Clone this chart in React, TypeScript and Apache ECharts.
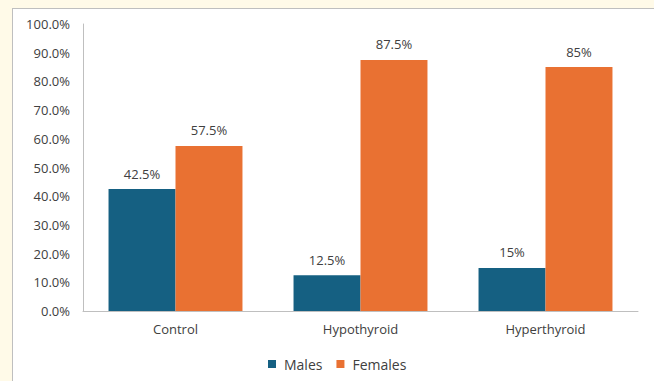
import React, { useEffect, useRef } from "react";
import * as echarts from "echarts";

const categories = ["Control", "Hypothyroid", "Hyperthyroid"];
const males = [42.5, 12.5, 15];
const females = [57.5, 87.5, 85];
const seriesNames = ["Males", "Females"];

const FONT = "'Open Sans', 'Liberation Sans', sans-serif";

export default function App() {
  const ref = useRef<HTMLDivElement>(null);
  useEffect(() => {
    if (!ref.current) return;
    const chart = echarts.init(ref.current, null, { renderer: "svg" });
    const label = {
      show: true,
      position: "top" as const,
      distance: 9,
      color: "#404040",
      fontSize: 13,
      fontFamily: FONT,
      formatter: (p: any) => `${p.value}%`,
    };
    chart.setOption({
      animation: false,
      textStyle: { fontFamily: FONT },
      grid: { left: 83, top: 24, right: 16, bottom: 70, containLabel: false },
      legend: {
        data: seriesNames,
        left: 263,
        top: 352,
        icon: "rect",
        itemWidth: 8,
        itemHeight: 8,
        itemGap: 14,
        textStyle: { color: "#404040", fontSize: 14, fontFamily: FONT, padding: [0, 0, 0, 3] },
      },
      xAxis: {
        type: "category",
        data: categories,
        axisLine: { lineStyle: { color: "#BFBFBF", width: 1 } },
        axisTick: { show: false },
        axisLabel: { color: "#404040", fontSize: 13, margin: 11, fontFamily: FONT },
      },
      yAxis: {
        type: "value",
        min: 0,
        max: 100,
        interval: 10,
        axisLine: { show: true, lineStyle: { color: "#BFBFBF", width: 1 } },
        axisTick: { show: false },
        splitLine: { show: false },
        axisLabel: {
          color: "#404040",
          fontSize: 13,
          margin: 13,
          fontFamily: FONT,
          formatter: (v: number) => `${v.toFixed(1)}%`,
        },
      },
      series: [
        {
          name: seriesNames[0],
          type: "bar",
          data: males,
          barGap: "0%",
          barCategoryGap: "27.6%",
          itemStyle: { color: "#156082" },
          label,
        },
        {
          name: seriesNames[1],
          type: "bar",
          data: females,
          barGap: "0%",
          barCategoryGap: "27.6%",
          itemStyle: { color: "#E97132" },
          label,
        },
      ],
    });
    return () => chart.dispose();
  }, []);
  return (
    <div
      style={{
        position: "fixed",
        left: 0,
        top: 0,
        width: 654,
        height: 381,
        background: "#FFFAE8",
        overflow: "hidden",
      }}
    >
      <div
        style={{
          position: "absolute",
          left: 12,
          top: 8,
          width: 700,
          height: 420,
          background: "#FFFFFF",
          border: "1px solid #BFBFBF",
        }}
      />
      <div ref={ref} style={{ position: "absolute", left: 0, top: 0, width: 654, height: 381 }} />
    </div>
  );
}
